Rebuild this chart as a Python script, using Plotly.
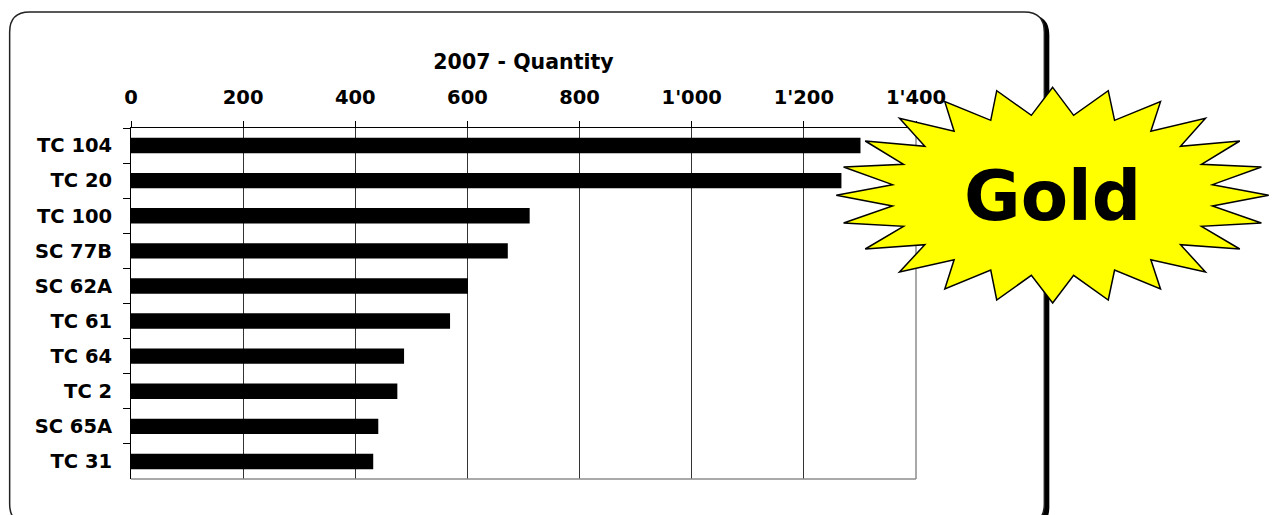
import plotly.graph_objects as go

categories = ["TC 104", "TC 20", "TC 100", "SC 77B", "SC 62A", "TC 61", "TC 64", "TC 2", "SC 65A", "TC 31"]
quantity = [1301, 1267, 711, 672, 601, 569, 487, 475, 441, 432]
tick_values = [0, 200, 400, 600, 800, 1000, 1200, 1400]
tick_labels = ["0", "200", "400", "600", "800", "1'000", "1'200", "1'400"]
chart_title = "2007 - Quantity"
badge_text = "Gold"

W, H = 1274, 515
L, R, T, B = 130.5, 916.5, 128, 479
LABEL_FONT = dict(family="DejaVu Sans", size=19.5, color="#000000", weight="bold")


def px(x):
    return (x - L) / (R - L)


def py(y):
    return 1 - (y - T) / (B - T)


def rounded(x0, y0, x1, y1, r):
    p = lambda x, y: f"{px(x):.5f} {py(y):.5f}"
    return (f"M {p(x0 + r, y0)} L {p(x1 - r, y0)} Q {p(x1, y0)} {p(x1, y0 + r)} "
            f"L {p(x1, y1 - r)} Q {p(x1, y1)} {p(x1 - r, y1)} L {p(x0 + r, y1)} "
            f"Q {p(x0, y1)} {p(x0, y1 - r)} L {p(x0, y0 + r)} Q {p(x0, y0)} {p(x0 + r, y0)} Z")


star_outline = [(670, 262), (733, 346), (837, 272), (856, 361), (994, 305), (965, 394), (1129, 355), (1054, 439),
                (1232, 423), (1117, 493), (1297, 501), (1150, 554), (1319, 586), (1150, 618), (1297, 669), (1117, 679),
                (1232, 747), (1054, 734), (1129, 816), (965, 779), (994, 867), (856, 810), (837, 900), (733, 826),
                (670, 909), (606, 826), (502, 900), (484, 810), (346, 867), (374, 779), (210, 816), (286, 734),
                (107, 747), (222, 679), (42, 669), (189, 618), (20, 586), (189, 554), (42, 501), (222, 493),
                (107, 423), (286, 439), (210, 355), (374, 394), (346, 305), (484, 361), (502, 272), (606, 346)]
star_path = "M " + " L ".join(f"{px(830 + a / 3):.5f} {py(b / 3):.5f}" for a, b in star_outline) + " Z"

fig = go.Figure(go.Bar(
    x=quantity, y=categories, orientation="h",
    marker=dict(color="#000000", line=dict(width=0)),
    showlegend=False,
))

shapes = [
    dict(type="path", xref="paper", yref="paper", layer="below", path=rounded(13, 15, 1050, 527, 20),
         fillcolor="#000000", line=dict(width=0)),
    dict(type="path", xref="paper", yref="paper", layer="below", path=rounded(9, 12, 1045, 524, 20),
         fillcolor="#ffffff", line=dict(color="#222222", width=1.5)),
    dict(type="line", xref="x domain", yref="y domain", x0=1, x1=1, y0=0, y1=1, line=dict(color="#8c8c8c", width=1.5)),
    dict(type="line", xref="x domain", yref="y domain", x0=0, x1=1, y0=0, y1=0, line=dict(color="#8c8c8c", width=1.5)),
    dict(type="path", xref="paper", yref="paper", path=star_path, fillcolor="#ffff00",
         line=dict(color="#000000", width=1.5)),
]

fig.update_layout(
    width=W, height=H, autosize=False,
    margin=dict(l=L, r=W - R, t=T, b=H - B, pad=0, autoexpand=False),
    paper_bgcolor="#ffffff", plot_bgcolor="rgba(0,0,0,0)",
    bargap=0.56,
    font=dict(family="DejaVu Sans", color="#000000"),
    xaxis=dict(
        side="top", range=[0, 1400], tickmode="array", tickvals=tick_values, ticktext=tick_labels,
        ticks="outside", ticklen=6, tickwidth=1, tickcolor="#000000",
        showline=True, linecolor="#000000", linewidth=1,
        showgrid=True, gridcolor="#333333", gridwidth=1, zeroline=False,
        tickfont=LABEL_FONT, ticklabelstandoff=9,
        title=dict(text=chart_title, font=dict(family="DejaVu Sans", size=20.5, color="#000000", weight="bold"), standoff=11),
    ),
    yaxis=dict(
        type="category", categoryorder="array", categoryarray=categories, autorange="reversed",
        tickson="boundaries", ticks="outside", ticklen=7, tickwidth=1, tickcolor="#000000",
        showline=True, linecolor="#000000", linewidth=1, showgrid=False, zeroline=False,
        tickfont=LABEL_FONT, ticklabelstandoff=14,
    ),
    shapes=shapes,
    annotations=[dict(text=badge_text, xref="paper", yref="paper", x=px(1053.5), y=py(196), xanchor="center",
                      yanchor="middle", showarrow=False,
                      font=dict(family="DejaVu Sans", size=69, color="#000000", weight="bold"))],
)

fig.write_html("out.html", config=dict(displayModeBar=False),
               post_script="document.body.style.margin='0';document.documentElement.style.overflow='hidden';")
